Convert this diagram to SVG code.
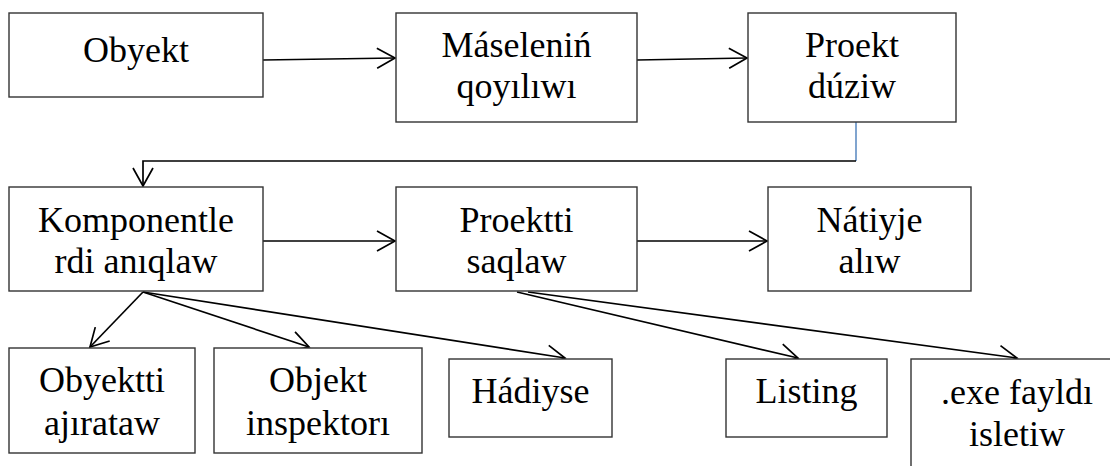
<svg xmlns="http://www.w3.org/2000/svg" width="1110" height="466" viewBox="0 0 1110 466">
<style>
.box{fill:#ffffff;stroke:#333333;stroke-width:1.4}
.t{font-size:36px;fill:#000000;text-anchor:middle}
.c{fill:none;stroke:#000000;stroke-width:1.7}
.blue{fill:none;stroke:#4a7ebb;stroke-width:1.4}
</style>
<defs>
<marker id="ah" markerUnits="userSpaceOnUse" markerWidth="22" markerHeight="24" viewBox="0 0 22 24" refX="19" refY="12" orient="auto">
<path d="M1,2 L19,12 L1,22" fill="none" stroke="#000000" stroke-width="1.7"/>
</marker>
</defs>
<rect width="1110" height="466" fill="#ffffff"/>
<g id="connectors">
<line class="c" x1="263" y1="60" x2="395" y2="58" marker-end="url(#ah)"/>
<line class="c" x1="637" y1="60" x2="747" y2="58" marker-end="url(#ah)"/>
<line class="blue" x1="856" y1="122" x2="856" y2="161"/>
<polyline class="c" points="856,161 143,161 143,186" marker-end="url(#ah)"/>
<line class="c" x1="263" y1="241" x2="395" y2="241" marker-end="url(#ah)"/>
<line class="c" x1="637" y1="241" x2="767" y2="241" marker-end="url(#ah)"/>
<line class="c" x1="143" y1="292" x2="90" y2="347" marker-end="url(#ah)"/>
<line class="c" x1="143" y1="292" x2="309" y2="347" marker-end="url(#ah)"/>
<line class="c" x1="143" y1="292" x2="565" y2="358" marker-end="url(#ah)"/>
<line class="c" x1="517" y1="292" x2="798" y2="358" marker-end="url(#ah)"/>
<line class="c" x1="528" y1="292" x2="1017" y2="358" marker-end="url(#ah)"/>
</g>
<g font-family="Liberation Serif, serif">
<g id="obyekt">
<rect class="box" x="9" y="13" width="254" height="84"/>
<text class="t" x="136" y="62">Obyekt</text>
</g>
<g id="maseleni">
<rect class="box" x="396" y="13" width="241" height="109"/>
<text class="t" x="516.5" y="57">Máseleniń</text>
<text class="t" x="516.5" y="98">qoyılıwı</text>
</g>
<g id="proekt">
<rect class="box" x="748" y="13" width="208" height="109"/>
<text class="t" x="852" y="57">Proekt</text>
<text class="t" x="852" y="98">dúziw</text>
</g>
<g id="komponentler">
<rect class="box" x="9" y="187" width="254" height="104"/>
<text class="t" x="136" y="232">Komponentle</text>
<text class="t" x="136" y="273">rdi anıqlaw</text>
</g>
<g id="proektti">
<rect class="box" x="396" y="187" width="241" height="104"/>
<text class="t" x="516.5" y="232">Proektti</text>
<text class="t" x="516.5" y="273">saqlaw</text>
</g>
<g id="natiyje">
<rect class="box" x="768" y="187" width="203" height="104"/>
<text class="t" x="869.5" y="232">Nátiyje</text>
<text class="t" x="869.5" y="273">alıw</text>
</g>
<g id="obyektti">
<rect class="box" x="9" y="348" width="186" height="105"/>
<text class="t" x="102" y="392">Obyektti</text>
<text class="t" x="102" y="435">ajırataw</text>
</g>
<g id="inspektor">
<rect class="box" x="214" y="348" width="208" height="105"/>
<text class="t" x="318" y="392">Objekt</text>
<text class="t" x="318" y="435">inspektorı</text>
</g>
<g id="hadiyse">
<rect class="box" x="449" y="359" width="163" height="78"/>
<text class="t" x="530.5" y="403">Hádiyse</text>
</g>
<g id="listing">
<rect class="box" x="726" y="359" width="161" height="78"/>
<text class="t" x="806.5" y="403">Listing</text>
</g>
<g id="exe">
<rect class="box" x="911" y="359" width="220" height="130"/>
<text class="t" x="1017" y="404">.exe fayldı</text>
<text class="t" x="1017" y="446">isletiw</text>
</g>
</g>
</svg>
